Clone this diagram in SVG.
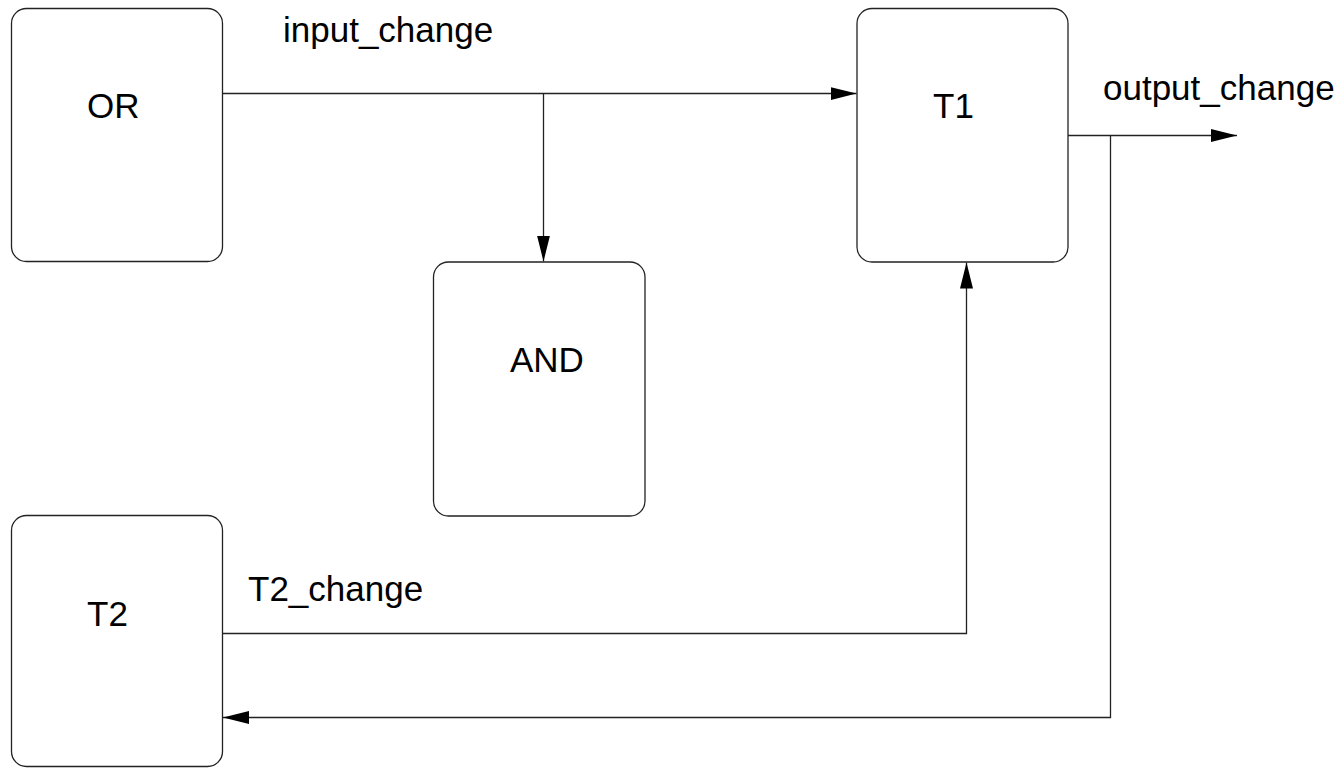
<svg xmlns="http://www.w3.org/2000/svg" width="1342" height="768" viewBox="0 0 1342 768">
  <style>
    .box { fill: #ffffff; stroke: #222222; stroke-width: 1.3; }
    .lbl { font-family: "Liberation Sans", Arial, sans-serif; font-size: 35px; fill: #000000; }
    .wire { fill: none; stroke: #222222; stroke-width: 1.3; }
  </style>
  <defs>
    <marker id="arrow" markerUnits="userSpaceOnUse" markerWidth="27" markerHeight="14" refX="26" refY="6.5" orient="auto">
      <path d="M0,0 L26,6.5 L0,13 Z" fill="#000000"/>
    </marker>
  </defs>

  <rect width="1342" height="768" fill="#ffffff"/>

  <g id="connectors">
    <!-- OR to T1 -->
    <path class="wire" d="M222.5,93.5 H856.5" marker-end="url(#arrow)"/>
    <!-- branch to AND -->
    <path class="wire" d="M543.5,93.5 V261.5" marker-end="url(#arrow)"/>
    <!-- T1 output -->
    <path class="wire" d="M1068,135.5 H1237" marker-end="url(#arrow)"/>
    <!-- feedback to T2 -->
    <path class="wire" d="M1110.5,135.5 V717.5 H223" marker-end="url(#arrow)"/>
    <!-- T2 to T1 -->
    <path class="wire" d="M222.5,633.5 H966.5 V262.5" marker-end="url(#arrow)"/>
    <text class="lbl" x="283" y="42">input_change</text>
    <text class="lbl" x="1103" y="100">output_change</text>
    <text class="lbl" x="248" y="601">T2_change</text>
  </g>

  <g id="node-or">
    <rect class="box" x="11.5" y="8.5" width="211" height="253" rx="15"/>
    <text class="lbl" x="87" y="118">OR</text>
  </g>
  <g id="node-t1">
    <rect class="box" x="857" y="8.5" width="211" height="253.5" rx="15"/>
    <text class="lbl" x="933" y="118">T1</text>
  </g>
  <g id="node-and">
    <rect class="box" x="433.5" y="262" width="211.5" height="254" rx="15"/>
    <text class="lbl" x="510" y="372">AND</text>
  </g>
  <g id="node-t2">
    <rect class="box" x="11.5" y="515.5" width="211" height="251" rx="15"/>
    <text class="lbl" x="87" y="626">T2</text>
  </g>
</svg>
